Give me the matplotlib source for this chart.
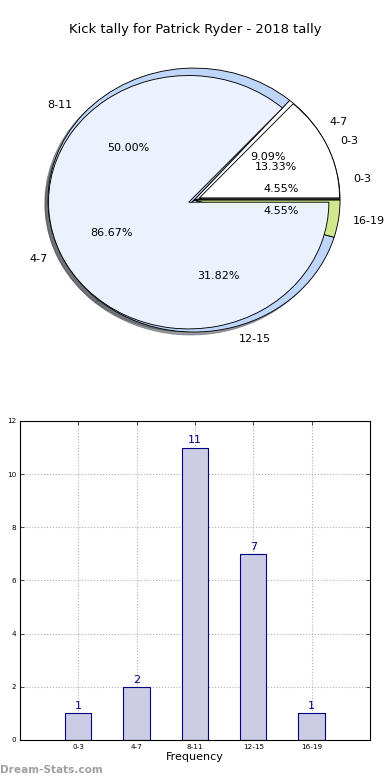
import matplotlib
matplotlib.use("Agg")
import matplotlib.pyplot as plt

# kick tally per interval
categories = ["0-3", "4-7", "8-11", "12-15", "16-19"]
counts = [1, 2, 11, 7, 1]

# second (overlaid) pie
inner_labels = ["0-3", "4-7"]
inner_values = [2, 13]

title = "Kick tally for Patrick Ryder - 2018 tally"

outer_colors = ["#3a3a3a", "#ffffff", "#bed6fa", "#bed6fa", "#d2e88f"]
inner_colors = ["#ffffff", "#ebf1fd"]

fig = plt.figure(figsize=(390 / 80, 780 / 80), dpi=80)

# --- pie -------------------------------------------------------------------
axp = fig.add_axes([0.0295, 0.532, 0.936, 0.423])
wedge_kw = dict(edgecolor="black", linewidth=0.8)
axp.pie(counts, labels=categories, colors=outer_colors, autopct="%.2f%%",
        pctdistance=0.6, labeldistance=1.1, startangle=0, shadow=True,
        wedgeprops=wedge_kw, textprops=dict(fontsize=10))
axp.pie(inner_values, labels=inner_labels, colors=inner_colors,
        autopct="%.2f%%", pctdistance=0.6, labeldistance=1.1, radius=0.96,
        explode=(0.04, 0.04), startangle=0, shadow=True,
        wedgeprops=wedge_kw, textprops=dict(fontsize=10))
axp.set_aspect("auto")
axp.set_xlim(-1.25, 1.25)
axp.set_ylim(-1.25, 1.25)
fig.text(0.5, 1 - 30 / 780, title, ha="center", va="center", fontsize=11.8)

# --- bars ------------------------------------------------------------------
axb = fig.add_axes([0.0513, 0.0513, 0.897, 0.409])
xs = list(range(len(categories)))
axb.bar(xs, counts, width=0.45, color="#cccce5", edgecolor="#000080",
        linewidth=1.0, zorder=2)
for x, v in zip(xs, counts):
    axb.text(x, v + 0.08, str(v), ha="center", va="bottom", color="#000080",
             fontsize=10, zorder=3)
axb.set_xlim(-1, 5)
axb.set_ylim(0, 12)
axb.set_xticks(xs)
axb.set_xticklabels(categories)
axb.set_yticks(range(0, 13, 2))
axb.tick_params(labelsize=6.5, direction="in", top=True, right=True,
                length=4, width=0.6)
axb.grid(True, linestyle=":", color="#b0b0b0", linewidth=1.0, zorder=0)
axb.set_axisbelow(True)
for s in axb.spines.values():
    s.set_linewidth(1.0)
axb.set_xlabel("Frequency", fontsize=10, labelpad=2)
axb.set_ylabel("Stat Interval", fontsize=9)
axb.yaxis.set_label_coords(-0.05, 0.5)

fig.text(0.0, 1 - 770 / 780, "Dream-Stats.com", ha="left", va="center",
         fontsize=9.5, color="#a0a0a0", fontweight="bold")

fig.savefig("out.png", dpi=80)
